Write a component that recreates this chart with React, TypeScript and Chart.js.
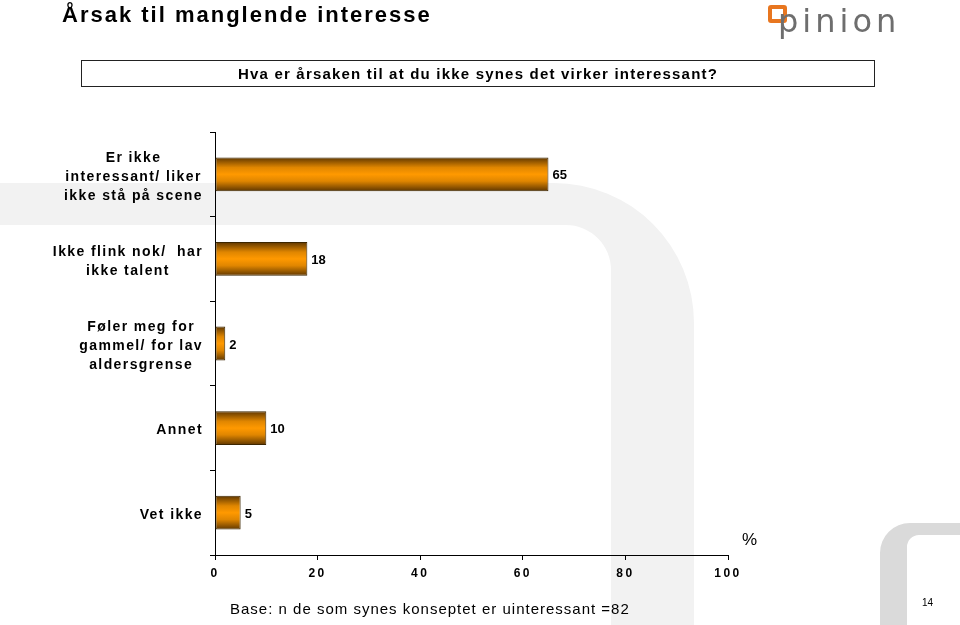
import React, { useEffect, useRef } from "react";
import { Chart, registerables } from "chart.js";

Chart.register(...registerables);

const title = "Årsak til manglende interesse";
const question = "Hva er årsaken til at du ikke synes det virker interessant?";
const categories: string[][] = [
  ["Er ikke", "interessant/ liker", "ikke stå på scene"],
  ["Ikke flink nok/  har", "ikke talent"],
  ["Føler meg for", "gammel/ for lav", "aldersgrense"],
  ["Annet"],
  ["Vet ikke"],
];
const values: number[] = [65, 18, 2, 10, 5];
const xTicks: number[] = [0, 20, 40, 60, 80, 100];
const unitLabel = "%";
const baseNote = "Base: n de som synes konseptet er uinteressant =82";
const pageNumber = "14";

const FONT = "'Liberation Sans', Arial, Helvetica, sans-serif";

const watermarkPlugin = {
  id: "watermark",
  beforeDraw(chart: any) {
    const ctx = chart.ctx as CanvasRenderingContext2D;
    ctx.save();
    ctx.fillStyle = "#f2f2f2";
    ctx.beginPath();
    ctx.moveTo(0, 183);
    ctx.lineTo(554, 183);
    ctx.arc(554, 323, 140, -Math.PI / 2, 0);
    ctx.lineTo(694, 625);
    ctx.lineTo(611, 625);
    ctx.lineTo(611, 270);
    ctx.arc(566, 270, 45, 0, -Math.PI / 2, true);
    ctx.lineTo(0, 225);
    ctx.closePath();
    ctx.fill();

    ctx.fillStyle = "#dadada";
    ctx.beginPath();
    ctx.moveTo(880, 625);
    ctx.lineTo(880, 553);
    ctx.arc(910, 553, 30, Math.PI, Math.PI * 1.5);
    ctx.lineTo(960, 523);
    ctx.lineTo(960, 535);
    ctx.lineTo(919, 535);
    ctx.arc(919, 547, 12, Math.PI * 1.5, Math.PI, true);
    ctx.lineTo(907, 625);
    ctx.closePath();
    ctx.fill();
    ctx.restore();
    (ctx as any).letterSpacing = "2.5px";
  },
};

const labelsPlugin = {
  id: "customLabels",
  afterDraw(chart: any) {
    const ctx = chart.ctx as CanvasRenderingContext2D;
    const yScale = chart.scales.y;
    const xScale = chart.scales.x;
    ctx.save();
    (ctx as any).letterSpacing = "1.4px";
    ctx.font = `bold 14px ${FONT}`;
    ctx.fillStyle = "#000";
    ctx.textBaseline = "middle";
    ctx.textAlign = "center";
    const lineH = 19;
    categories.forEach((lines, i) => {
      const cy = yScale.getPixelForValue(i) + 2.5;
      const w = Math.max(...lines.map((l) => ctx.measureText(l).width));
      const cx = yScale.right - 12 - w / 2;
      const y0 = cy - ((lines.length - 1) * lineH) / 2;
      lines.forEach((l, j) => ctx.fillText(l, cx, y0 + j * lineH));
    });
    (ctx as any).letterSpacing = "0px";
    ctx.font = `bold 13px ${FONT}`;
    ctx.textAlign = "left";
    values.forEach((v, i) => {
      const cy = yScale.getPixelForValue(i);
      ctx.fillText(String(v), xScale.getPixelForValue(v) + 4, cy + 1.5);
    });
    ctx.restore();
  },
};

function barGradient(context: any) {
  const chart = context.chart;
  const yScale = chart.scales?.y;
  if (!chart.chartArea || !yScale) return "#ff9900";
  const cy = yScale.getPixelForValue(context.dataIndex);
  const h = (yScale.height / categories.length) * 0.4;
  const g = chart.ctx.createLinearGradient(0, cy - h / 2, 0, cy + h / 2);
  g.addColorStop(0, "#5e3600");
  g.addColorStop(0.3, "#e08600");
  g.addColorStop(0.5, "#ff9900");
  g.addColorStop(0.7, "#e08600");
  g.addColorStop(1, "#5e3600");
  return g;
}

export default function App() {
  const canvasRef = useRef<HTMLCanvasElement | null>(null);

  useEffect(() => {
    if (!canvasRef.current) return;
    const chart = new Chart(canvasRef.current, {
      type: "bar",
      data: {
        labels: categories.map((c) => c.join(" ")),
        datasets: [
          {
            data: values,
            backgroundColor: barGradient,
            borderColor: "#3d2600",
            borderWidth: 1,
            borderSkipped: false,
            categoryPercentage: 1,
            barPercentage: 0.4,
          },
        ],
      },
      options: {
        indexAxis: "y",
        responsive: false,
        animation: false,
        devicePixelRatio: 1,
        layout: { padding: { top: 132, right: 232, left: 0, bottom: 0 } },
        plugins: { legend: { display: false }, tooltip: { enabled: false } },
        scales: {
          x: {
            type: "linear",
            min: 0,
            max: 100,
            afterBuildTicks: (scale: any) => {
              scale.ticks = xTicks.map((v) => ({ value: v }));
            },
            afterFit: (scale: any) => {
              scale.height = 70;
            },
            grid: {
              display: true,
              drawOnChartArea: false,
              drawTicks: true,
              tickLength: 5,
              color: "#000",
            },
            border: { display: true, color: "#000", width: 1 },
            ticks: {
              color: "#000",
              padding: 6,
              maxRotation: 0,
              font: { family: FONT, size: 12, weight: "bold" },
            },
          },
          y: {
            type: "category",
            offset: true,
            afterFit: (scale: any) => {
              scale.width = 215;
            },
            grid: {
              display: true,
              offset: true,
              drawOnChartArea: false,
              drawTicks: true,
              tickLength: 5,
              color: "#000",
            },
            border: { display: true, color: "#000", width: 1 },
            ticks: { display: false },
          },
        },
      } as any,
      plugins: [watermarkPlugin, labelsPlugin],
    });
    return () => chart.destroy();
  }, []);

  return (
    <div
      style={{
        position: "absolute",
        left: 0,
        top: 0,
        width: 960,
        height: 625,
        background: "#fff",
        overflow: "hidden",
        fontFamily: FONT,
      }}
    >
      <canvas
        ref={canvasRef}
        width={960}
        height={625}
        style={{ position: "absolute", left: 0, top: 0, width: 960, height: 625, display: "block" }}
      />
      <div
        style={{
          position: "absolute",
          left: 62,
          top: 0,
          height: 30,
          lineHeight: "30px",
          fontSize: 22,
          fontWeight: "bold",
          letterSpacing: "2px",
          color: "#000",
          whiteSpace: "nowrap",
        }}
      >
        {title}
      </div>
      <div
        style={{
          position: "absolute",
          left: 768,
          top: 5,
          width: 19,
          height: 18,
          border: "4px solid #e8761f",
          borderRadius: 3,
          boxSizing: "border-box",
        }}
      />
      <div
        style={{
          position: "absolute",
          left: 778,
          top: 5,
          lineHeight: "32px",
          fontSize: 32,
          fontFamily: "'DejaVu Sans', sans-serif",
          letterSpacing: "4px",
          color: "#6e6e6e",
          whiteSpace: "nowrap",
        }}
      >
        pinion
      </div>
      <div
        style={{
          position: "absolute",
          left: 81,
          top: 60,
          width: 794,
          height: 27,
          border: "1px solid #222",
          boxSizing: "border-box",
          textAlign: "center",
          lineHeight: "25px",
          fontSize: 15,
          fontWeight: "bold",
          letterSpacing: "1.2px",
          color: "#000",
          whiteSpace: "nowrap",
        }}
      >
        {question}
      </div>
      <div
        style={{
          position: "absolute",
          left: 742,
          top: 530,
          lineHeight: "20px",
          fontSize: 17,
          color: "#000",
        }}
      >
        {unitLabel}
      </div>
      <div
        style={{
          position: "absolute",
          left: 230,
          top: 599,
          lineHeight: "20px",
          fontSize: 15,
          letterSpacing: "1px",
          color: "#000",
          whiteSpace: "nowrap",
        }}
      >
        {baseNote}
      </div>
      <div
        style={{
          position: "absolute",
          left: 922,
          top: 597,
          lineHeight: "12px",
          fontSize: 10,
          color: "#000",
        }}
      >
        {pageNumber}
      </div>
    </div>
  );
}
